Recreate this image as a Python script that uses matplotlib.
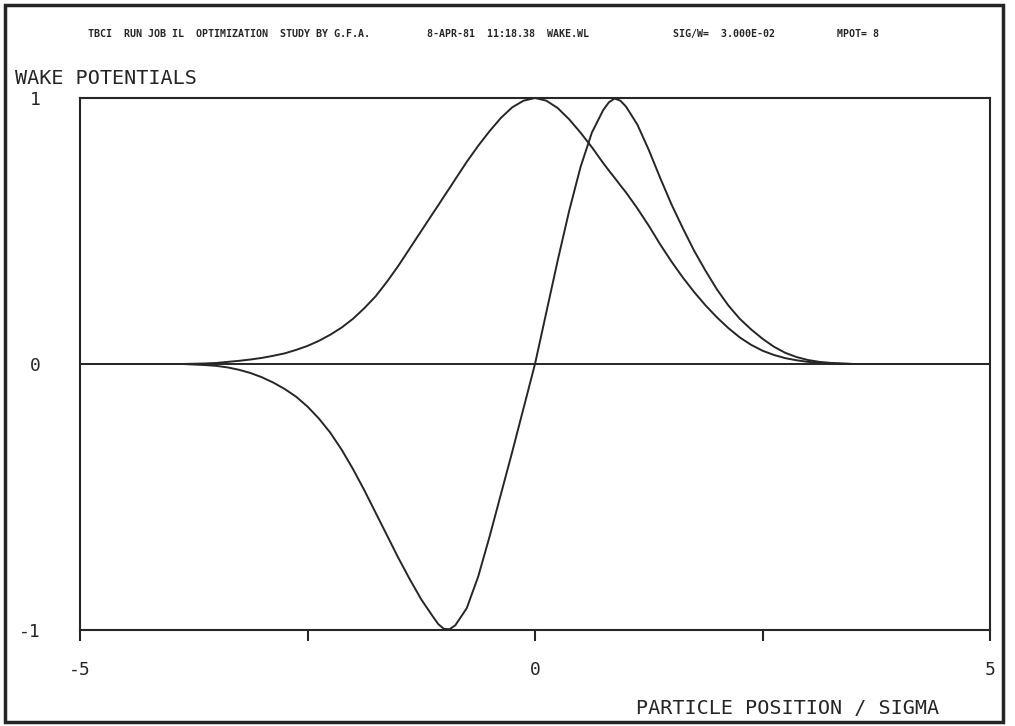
import matplotlib
matplotlib.use("Agg")
import matplotlib.pyplot as plt
from matplotlib.patches import Rectangle

# particle position / sigma
pos = [-5.0, -4.0, -3.875, -3.75, -3.625, -3.5, -3.375, -3.25, -3.125, -3.0,
       -2.875, -2.75, -2.625, -2.5, -2.375, -2.25, -2.125, -2.0, -1.875, -1.75,
       -1.625, -1.5, -1.375, -1.25, -1.125, -1.0625, -1.0, -0.9375, -0.875, -0.75,
       -0.625, -0.5, -0.375, -0.25, -0.125, 0.0, 0.125, 0.25, 0.375, 0.5,
       0.625, 0.75, 0.8125, 0.875, 0.9375, 1.0, 1.125, 1.25, 1.375, 1.5,
       1.625, 1.75, 1.875, 2.0, 2.125, 2.25, 2.375, 2.5, 2.625, 2.75,
       2.875, 3.0, 3.125, 3.25, 3.375, 3.5, 3.75, 4.0, 5.0]

# bunch-like (longitudinal) wake potential
wake_long = [0.0, 0.0, 0.0, 0.001, 0.002, 0.004, 0.008, 0.012, 0.017, 0.023,
             0.031, 0.040, 0.053, 0.068, 0.087, 0.110, 0.137, 0.170, 0.210, 0.255,
             0.310, 0.370, 0.435, 0.500, 0.565, 0.597, 0.630, 0.662, 0.695, 0.760,
             0.820, 0.875, 0.925, 0.965, 0.990, 1.000, 0.990, 0.962, 0.920, 0.870,
             0.815, 0.755, 0.727, 0.700, 0.672, 0.645, 0.585, 0.520, 0.450, 0.385,
             0.325, 0.270, 0.220, 0.175, 0.135, 0.100, 0.072, 0.050, 0.034, 0.022,
             0.014, 0.008, 0.005, 0.002, 0.001, 0.0, 0.0, 0.0, 0.0]

# bipolar wake potential
wake_bip = [0.0, 0.0, 0.0, -0.002, -0.004, -0.007, -0.013, -0.022, -0.034, -0.050,
            -0.070, -0.094, -0.123, -0.160, -0.205, -0.258, -0.322, -0.395, -0.475, -0.560,
            -0.645, -0.730, -0.810, -0.885, -0.948, -0.978, -0.996, -0.997, -0.982, -0.918,
            -0.800, -0.650, -0.490, -0.330, -0.165, 0.0, 0.195, 0.390, 0.575, 0.740,
            0.870, 0.955, 0.984, 0.998, 0.990, 0.968, 0.900, 0.805, 0.700, 0.600,
            0.510, 0.425, 0.350, 0.280, 0.220, 0.170, 0.130, 0.095, 0.065, 0.042,
            0.026, 0.015, 0.008, 0.004, 0.002, 0.0, 0.0, 0.0, 0.0]

xticks = [-5, -2.5, 0, 2.5, 5]
xticklabels = ["-5", "", "0", "", "5"]
yticks = [-1, 0, 1]
yticklabels = ["-1", "0", "1"]

header = [("TBCI  RUN JOB IL  OPTIMIZATION  STUDY BY G.F.A.", 88),
          ("8-APR-81  11:18.38  WAKE.WL", 427),
          ("SIG/W=  3.000E-02", 673),
          ("MPOT= 8", 837)]

ink = "#262626"
mono = "DejaVu Sans Mono"
W, H = 1015, 726
fig = plt.figure(figsize=(W / 100, H / 100), dpi=100)
fig.patch.set_facecolor("white")

ax = fig.add_axes([80 / W, 1 - 630 / H, (990 - 80) / W, (630 - 98) / H])
ax.plot(pos, wake_long, color=ink, lw=1.4)
ax.plot(pos, wake_bip, color=ink, lw=1.4)
ax.axhline(0, color=ink, lw=1.4)
ax.set_xlim(-5, 5)
ax.set_ylim(-1, 1)
for s in ax.spines.values():
    s.set_color(ink)
    s.set_linewidth(1.5)

ax.set_xticks(xticks)
ax.set_xticklabels(xticklabels, fontfamily=mono)
ax.set_yticks(yticks)
ax.set_yticklabels(yticklabels, fontfamily=mono)
ax.tick_params(axis="x", direction="out", length=8, width=1.5, color=ink,
               pad=14, labelsize=13, labelcolor=ink)
ax.tick_params(axis="y", length=0, pad=28, labelsize=13, labelcolor=ink)

fig.text(15 / W, 1 - 78 / H, "WAKE POTENTIALS", fontsize=14.5, color=ink,
         ha="left", va="center", family=mono)
fig.text(636 / W, 1 - 708 / H, "PARTICLE POSITION / SIGMA", fontsize=14.5,
         color=ink, ha="left", va="center", family=mono)

for txt, x in header:
    fig.text(x / W, 1 - 34 / H, txt, fontsize=7.2, fontweight="bold",
             color=ink, ha="left", va="center", family=mono)

fig.patches.append(Rectangle((5 / W, 4 / H), 998 / W, 717 / H,
                             transform=fig.transFigure, fill=False,
                             edgecolor=ink, lw=2.5))

fig.savefig("out.png", dpi=100)
